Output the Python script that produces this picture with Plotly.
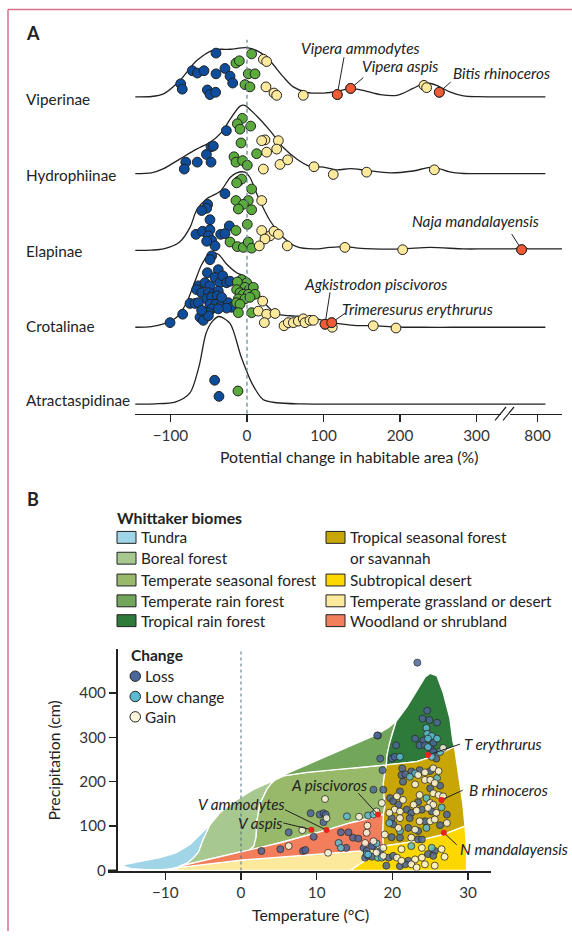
import plotly.graph_objects as go

W, H = 572, 939
FONT = "Lato"
INK = "#222222"
FS = 15.3


def px(x):
    return x / W


def py(y):
    return 1 - y / H


# ======================= PANEL A DATA =======================
# (potential change in habitable area %, vertical jitter in ridge-height units)
subfamilies = ["Atractaspidinae", "Crotalinae", "Elapinae", "Hydrophiinae", "Viperinae"]
tick_values_a = [-100, 0, 100, 200, 300, 800]
tick_labels_a = ["\u2212100", "0", "100", "200", "300", "800"]

vip_density = [(-146, 0), (-125, 0.005), (-109, 0.04), (-88, 0.21), (-66, 0.47), (-44, 0.61), (-22, 0.62),
               (0, 0.64), (17, 0.58), (30, 0.47), (47.5, 0.26), (60.5, 0.13), (78, 0.06), (100, 0.05),
               (118, 0.07), (135, 0.11), (152, 0.085), (174, 0.03), (196, 0.02), (217, 0.11), (233, 0.18),
               (248, 0.15), (265, 0.065), (283, 0.013), (300, 0.002), (320, 0), (340, 0), (752, 0), (824, 0)]
vip_loss = [(-40.5, 0.57), (-71.5, 0.34), (-64.9, 0.31), (-56.2, 0.34), (-40.5, 0.30), (-28.8, 0.37),
            (-22.2, 0.27), (-18.7, 0.18), (-86.7, 0.17), (-84.6, 0.10), (-51.8, 0.09), (-48.4, 0.03), (-41, 0.06)]
vip_low = [(-14.4, 0.44), (-10, 0.47), (6.1, 0.56), (1.7, 0.30), (10.5, 0.30), (-2.6, 0.16), (3.9, 0.13)]
vip_gain = [(21.4, 0.49), (25.7, 0.46), (24.8, 0.13), (35.3, 0.05), (38.8, 0.02), (73.6, 0.02),
            (231.4, 0.15), (234.8, 0.12)]
vip_named = [(118, 0.03), (135.5, 0.11), (251.4, 0.06)]

hyd_density = [(-146, 0), (-125, 0.01), (-109, 0.065), (-88, 0.19), (-66, 0.32), (-48, 0.41), (-33, 0.54),
               (-22, 0.71), (-9, 0.88), (-3, 0.89), (12.7, 0.75), (30, 0.56), (47.5, 0.34), (65, 0.19),
               (82, 0.094), (100, 0.086), (117, 0.05), (135, 0.065), (156, 0.043), (187, 0.01),
               (217, 0.035), (243, 0.086), (265, 0.022), (283, 0.002), (300, 0), (320, 0), (340, 0),
               (752, 0), (824, 0)]
hyd_loss = [(-27, 0.56), (-47, 0.35), (-44, 0.36), (-53, 0.25), (-47, 0.15), (-80, 0.15), (-82, 0.06), (-65, 0.15)]
hyd_low = [(-6.1, 0.72), (-12.6, 0.65), (-9.1, 0.58), (4.8, 0.62), (-7.8, 0.40), (-17, 0.22), (-14.4, 0.15),
           (-5.7, 0.17), (0.4, 0.11), (12.6, 0.26)]
hyd_gain = [(23.5, 0.44), (19.2, 0.43), (41, 0.43), (25.7, 0.28), (38.8, 0.32), (21.4, 0.06), (43.1, 0.12),
            (53.2, 0.18), (87.6, 0.09), (112.8, -0.01), (156.4, 0.02), (244.9, 0.05)]

ela_density = [(-146, 0), (-125, 0.005), (-109, 0.02), (-88, 0.11), (-74.5, 0.3), (-66, 0.52), (-53, 0.67),
               (-35, 0.77), (-22, 0.95), (-13.5, 1.01), (-3, 1.02), (3.9, 0.95), (14.8, 0.69), (30, 0.39),
               (47.5, 0.17), (65, 0.05), (87, 0.02), (108, 0.04), (128, 0.05), (145, 0.03), (165, 0.02),
               (204, 0.02), (239, 0.04), (283, 0.02), (310, 0.02), (340, 0.02), (715, 0.02), (733, 0.025),
               (750, 0.05), (767, 0.025), (800, 0.02), (836, 0.02), (876, 0.02)]
ela_loss = [(-28.8, 0.74), (-51.4, 0.60), (-52.7, 0.55), (-59.3, 0.52), (-48.4, 0.40), (-23.1, 0.32),
            (-66.7, 0.21), (-58, 0.25), (-48.4, 0.27), (-50.5, 0.19), (-46.2, 0.13), (-41.8, 0.06),
            (-34.4, 0.21), (-28.8, 0.22), (-52.7, 0.12)]
ela_low = [(-11.3, 0.90), (-7, 0.93), (-13.5, 0.88), (6.1, 0.80), (-14.4, 0.65), (1.7, 0.65), (-4.8, 0.60),
           (-11.3, 0.54), (6.1, 0.53), (0.4, 0.34), (-14.4, 0.26), (-22.2, 0.11), (-12.6, 0.05), (-4.8, 0.04),
           (1.7, 0.11), (6.1, 0.03)]
ela_gain = [(19.2, 0.65), (19.2, 0.26), (30.1, 0.19), (35.3, 0.25), (41, 0.21), (23.5, 0.15), (16.1, 0.06),
            (52.7, 0.06), (128, 0.04), (203.5, 0.01)]
ela_named = [(750, 0.01)]

cro_density = [(-146, 0), (-125, 0.008), (-109, 0.043), (-92, 0.13), (-79, 0.32), (-68, 0.6), (-59, 0.82),
               (-48, 0.97), (-37.5, 0.95), (-26.5, 0.82), (-13.5, 0.71), (-0.4, 0.65), (12.7, 0.47),
               (21.3, 0.34), (30, 0.24), (39, 0.17), (56, 0.15), (74, 0.14), (91, 0.11), (108, 0.065),
               (125, 0.04), (143, 0.022), (165, 0.022), (196, 0.003), (230, 0), (270, 0), (310, 0), (340, 0),
               (752, 0), (824, 0)]
cro_loss = [(-46.2, 0.93), (-48.4, 0.88), (-37.5, 0.75), (-51.8, 0.71), (-63.6, 0.54), (-65.8, 0.49),
            (-54.9, 0.58), (-48.4, 0.54), (-41.8, 0.65), (-35.3, 0.58), (-31.8, 0.67), (-59.3, 0.45),
            (-50.5, 0.45), (-44, 0.43), (-37.5, 0.47), (-26.6, 0.58), (-22.2, 0.60), (-52.7, 0.37),
            (-46.2, 0.39), (-38.8, 0.41), (-74.5, 0.31), (-67.9, 0.31), (-63.6, 0.32), (-48.4, 0.30),
            (-40.5, 0.30), (-33.1, 0.30), (-24.4, 0.32), (-20, 0.26), (-26.6, 0.25), (-46.2, 0.24),
            (-50.5, 0.19), (-61.4, 0.13), (-57.1, 0.09), (-50.5, 0.15), (-84.1, 0.17), (-100.6, 0.06),
            (-59.3, 0.22), (-37.5, 0.24), (-33.1, 0.39)]
cro_low = [(-7, 0.62), (-0.4, 0.58), (-12.6, 0.59), (-2.6, 0.52), (3.1, 0.49), (8.3, 0.52), (-13.5, 0.49),
           (-9.1, 0.45), (-4.8, 0.43), (1.7, 0.43), (10.5, 0.43), (-11.3, 0.37), (-2.6, 0.37), (3.9, 0.39),
           (-13.5, 0.32), (-9.1, 0.30), (-11.3, 0.19), (6.1, 0.19)]
cro_gain = [(20.5, 0.34), (14.8, 0.21), (25.7, 0.17), (36.6, 0.18), (22.7, 0.06), (48.4, 0.02), (54, 0.06),
            (60.6, 0.06), (67.1, 0.08), (73.6, 0.11), (75.8, 0.06), (82.3, 0.09), (86.8, 0.09), (111.5, 0.0),
            (165.1, 0.02), (194.8, -0.01)]
cro_named = [(102, 0.04), (110.7, 0.06)]

atr_density = [(-146, 0), (-120, 0.003), (-94, 0.026), (-74.5, 0.146), (-62.7, 0.49), (-53.6, 0.92),
               (-45, 1.08), (-36.6, 1.14), (-22.2, 1.05), (-7.8, 0.62), (6.5, 0.27), (20.9, 0.06),
               (39, 0.017), (70, 0.002), (110, 0), (150, 0), (190, 0), (230, 0), (270, 0), (310, 0),
               (340, 0), (752, 0), (824, 0)]
atr_loss = [(-42.3, 0.31), (-36.6, 0.10)]
atr_low = [(-11.8, 0.17)]

ridges_a = [
    ("Atractaspidinae", atr_density, atr_loss, atr_low, [], []),
    ("Crotalinae", cro_density, cro_loss, cro_low, cro_gain, cro_named),
    ("Elapinae", ela_density, ela_loss, ela_low, ela_gain, ela_named),
    ("Hydrophiinae", hyd_density, hyd_loss, hyd_low, hyd_gain, []),
    ("Viperinae", vip_density, vip_loss, vip_low, vip_gain, vip_named),
]

# species labels panel A: (name, ridge index, change, jitter)
species_a = [("Vipera ammodytes", 4, 118, 0.03), ("Vipera aspis", 4, 135.5, 0.11),
             ("Bitis rhinoceros", 4, 251.4, 0.06), ("Naja mandalayensis", 2, 750, 0.01),
             ("Agkistrodon piscivoros", 1, 102, 0.04), ("Trimeresurus erythrurus", 1, 110.7, 0.06)]

# ======================= PANEL B DATA =======================
biome_names = ["Tundra", "Boreal forest", "Temperate seasonal forest", "Temperate rain forest",
               "Tropical rain forest", "Tropical seasonal forest<br>or savannah", "Subtropical desert",
               "Temperate grassland or desert", "Woodland or shrubland"]
biome_colors = ["#9fd5e7", "#a7c98f", "#98b86a", "#72a65b", "#2e7a3b", "#c7a606", "#fdd700",
                "#fde99b", "#f27e5c"]

tundra_poly = [(-15.6, 13), (-14.3, 18), (-12.9, 22), (-10.7, 29), (-8.5, 40), (-6.7, 59), (-5.4, 81),
               (-4.3, 101), (-4.1, 103), (-4.5, 88), (-5.0, 70), (-5.6, 42), (-6.3, 28), (-7.0, 18),
               (-8.1, 9), (-9.2, 4), (-10.5, 2), (-12.5, 2), (-14.5, 4), (-15.3, 8), (-15.6, 13)]
boreal_poly = [(-4.1, 103), (-3.5, 115), (-2.8, 130), (-1.5, 148), (-0.6, 159), (1.6, 182), (3.0, 192),
               (4.5, 204), (4.0, 196), (3.4, 182), (2.5, 150), (2.1, 110), (2.0, 75), (1.7, 55), (1.0, 44),
               (-0.1, 42), (-4.1, 26), (-8.1, 10), (-7.0, 18), (-6.3, 28), (-5.6, 42), (-5.0, 70),
               (-4.5, 88), (-4.1, 103)]
temp_seasonal_poly = [(4.5, 204), (5.6, 213), (8.7, 221), (13.1, 229), (15.7, 232), (19.2, 238), (19.0, 220),
                      (18.8, 196), (18.9, 170), (19.0, 144), (18.8, 126), (15.7, 112), (14.4, 107),
                      (11.3, 91), (9.1, 81), (5.6, 64), (1.0, 44), (1.7, 55), (2.0, 75), (2.1, 110),
                      (2.5, 150), (3.4, 182), (4.0, 196), (4.5, 204)]
temp_rain_poly = [(4.5, 204), (6, 218), (8.7, 238), (11, 255), (13.1, 270), (15.5, 288), (17.9, 306),
                  (19.5, 322), (20.5, 336), (20.0, 310), (19.6, 285), (19.3, 260), (19.2, 238), (15.7, 232),
                  (13.1, 229), (8.7, 221), (5.6, 213), (4.5, 204)]
trop_rain_poly = [(19.2, 238), (19.3, 260), (19.6, 285), (20.0, 310), (20.5, 336), (21.9, 368), (23.2, 405),
                  (24.3, 435), (25.0, 444), (25.9, 438), (26.7, 401), (27.6, 342), (28.0, 290), (28.2, 279),
                  (25.9, 260), (23.2, 245), (20.5, 240), (19.2, 238)]
trop_seasonal_poly = [(18.8, 55), (23.2, 66), (26.7, 81), (29.6, 100), (29.3, 150), (28.9, 200), (28.5, 250),
                      (28.2, 279), (25.9, 260), (23.2, 245), (20.5, 240), (19.2, 238), (19.0, 220),
                      (18.8, 196), (18.9, 170), (19.0, 144), (18.8, 126), (18.7, 100), (18.7, 80), (18.8, 55)]
desert_poly = [(14.4, 0), (16.6, 25), (18.4, 48), (18.8, 55), (23.2, 66), (26.7, 81), (29.6, 100),
               (29.8, 50), (29.8, 0), (14.4, 0)]
grassland_poly = [(-8.8, 0.5), (-8.1, 7), (0.3, 24), (9.1, 36), (15.7, 44), (17.0, 51), (18.8, 55),
                  (18.4, 48), (16.6, 25), (14.4, 0), (-8.8, 0), (-8.8, 0.5)]
woodland_poly = [(-8.3, 9), (-4.1, 26), (-0.1, 42), (5.6, 64), (9.1, 81), (11.3, 91), (14.4, 107),
                 (15.7, 112), (18.8, 126), (18.7, 100), (18.7, 80), (18.8, 55), (17.0, 51), (15.7, 44),
                 (9.1, 36), (0.3, 24), (-8.1, 7), (-8.3, 9)]

# (temperature degC, precipitation cm)
loss_pts = [(23.3, 468), (24.6, 360), (24.0, 342), (24.9, 339), (25.9, 333), (23.0, 297), (24.1, 293),
            (25.4, 287), (23.6, 282), (24.3, 282), (20.5, 282), (18.1, 304), (18.4, 252), (19.9, 252),
            (20.3, 256), (25.8, 252), (25.0, 275), (25.4, 267), (21.3, 230), (22.5, 223), (23.6, 226),
            (25.0, 224), (21.2, 215), (21.7, 217), (21.4, 200), (25.0, 185), (26.3, 191), (21.0, 178),
            (19.7, 163), (18.8, 182), (20.1, 156), (20.8, 148), (23.4, 154), (21.9, 137), (22.5, 130),
            (23.9, 137), (25.2, 133), (27.2, 126), (19.9, 118), (22.3, 118), (24.3, 111), (26.3, 102),
            (20.1, 104), (22.1, 96), (23.4, 89), (19.9, 75), (21.0, 74), (23.4, 70), (23.9, 70),
            (17.5, 55), (18.4, 44), (16.2, 51), (16.4, 29), (16.8, 33), (19.5, 29), (20.1, 33), (25.6, 44),
            (22.1, 22), (24.7, 37), (25.4, 33), (21.0, 10), (21.7, 14), (19.2, 11), (18.0, 304), (18.7, 226),
            (17.5, 182), (9.2, 129), (10.4, 126), (10.9, 129), (11.2, 126), (10.9, 109), (6.3, 86),
            (9.6, 76), (13.2, 86), (14.2, 86), (14.8, 74), (15.5, 72), (13.9, 51), (17.3, 55), (2.7, 44),
            (5.2, 48), (8.2, 44), (8.5, 46), (16.6, 44), (17.3, 31)]
low_pts = [(24.5, 321), (24.6, 308), (25.2, 303), (24.7, 297), (25.9, 297), (24.7, 278), (21.0, 256),
           (25.2, 256), (26.3, 267), (23.0, 219), (22.3, 211), (25.9, 208), (24.5, 163), (26.5, 142),
           (24.5, 96), (19.6, 107), (21.0, 89), (16.6, 37), (18.1, 29), (22.5, 55), (25.2, 51), (14.0, 122),
           (16.8, 124), (17.5, 126), (12.9, 62), (13.2, 51), (17.9, 61), (16.8, 36), (18.6, 29)]
gain_pts = [(26.7, 276), (24.3, 221), (25.4, 230), (26.1, 224), (23.4, 215), (23.0, 194), (24.3, 204),
            (25.0, 204), (25.6, 197), (25.4, 174), (26.1, 170), (26.7, 167), (23.6, 170), (20.6, 167),
            (21.4, 159), (18.6, 152), (22.8, 148), (25.0, 152), (25.4, 148), (20.3, 137), (21.0, 133),
            (23.2, 135), (24.7, 141), (25.8, 130), (19.6, 130), (21.0, 118), (23.6, 111), (25.0, 111),
            (25.6, 115), (27.2, 107), (20.8, 96), (23.0, 92), (22.5, 74), (19.0, 81), (18.8, 51), (18.8, 33),
            (21.2, 48), (23.9, 51), (26.5, 48), (20.6, 29), (21.2, 22), (23.0, 25), (23.9, 29), (26.9, 31),
            (22.5, 14), (23.2, 7), (24.3, 14), (25.6, 11), (11.1, 161), (11.3, 118), (15.6, 121),
            (17.9, 133), (8.1, 91), (16.6, 85), (16.7, 101), (17.5, 66), (6.3, 55), (11.5, 40), (16.4, 62),
            (17.9, 40)]
named_b = [("V aspis", 9.3, 92), ("V ammodytes", 11.3, 91), ("A piscivoros", 18.1, 126),
           ("T erythrurus", 24.7, 260), ("B rhinoceros", 26.5, 159), ("N mandalayensis", 26.8, 85)]
change_names = ["Loss", "Low change", "Gain"]
change_colors = ["#4b6699", "#5bbbd3", "#fbf5dc"]

# ======================= AXES GEOMETRY =======================
A_XR = [-146.4, 411.8]
A_XD = [135, 562]
A_YR = [-0.126, 4.745]
A_YD = [417.3, 40]
B_XR = [-17.57, 33.03]
B_XD = [108, 491]
B_YR = [0, 497.8]
B_YD = [878, 655]


def a_x(xp):
    return A_XR[0] + (xp - A_XD[0]) / (A_XD[1] - A_XD[0]) * (A_XR[1] - A_XR[0])


def a_y(yp):
    return A_YR[0] + (A_YD[0] - yp) / (A_YD[0] - A_YD[1]) * (A_YR[1] - A_YR[0])


def b_x(xp):
    return B_XR[0] + (xp - B_XD[0]) / (B_XD[1] - B_XD[0]) * (B_XR[1] - B_XR[0])


def b_y(yp):
    return B_YR[0] + (B_YD[0] - yp) / (B_YD[0] - B_YD[1]) * (B_YR[1] - B_YR[0])


def brk(v):
    """broken x axis: 0..340 linear, then values 700+ compressed next to the 800 tick"""
    return v if v <= 340 else 380 - (800 - v) * 0.42


fig = go.Figure()

COL_A = {"loss": "#0e4d9c", "low": "#5aab3b", "gain": "#fce99c", "named": "#ee5b36"}

# ---------------- Panel A traces ----------------
for i, (name, dens, loss, low, gain, named) in enumerate(ridges_a):
    fig.add_trace(go.Scatter(x=[brk(v) for v, _ in dens], y=[i + h for _, h in dens], mode="lines",
                             line=dict(color=INK, width=1.3, shape="spline", smoothing=0.8, simplify=False),
                             xaxis="x", yaxis="y", hoverinfo="skip"))
for i, (name, dens, loss, low, gain, named) in enumerate(ridges_a):
    for pts, key in [(loss, "loss"), (low, "low"), (gain, "gain"), (named, "named")]:
        if not pts:
            continue
        fig.add_trace(go.Scatter(x=[brk(v) for v, _ in pts], y=[i + j for _, j in pts], mode="markers",
                                 marker=dict(size=9.8, color=COL_A[key], line=dict(color=INK, width=1)),
                                 xaxis="x", yaxis="y", hoverinfo="skip"))

# species label leader lines (panel A)
label_pos_a = {
    "Vipera ammodytes": ((360.5, 48.3), (344, 57.7)),
    "Vipera aspis": ((400.3, 66.7), (363.3, 78.3)),
    "Bitis rhinoceros": ((501, 74), (450.7, 82.7)),
    "Naja mandalayensis": ((475, 223.3), (511.7, 236)),
    "Agkistrodon piscivoros": ((376, 286.7), (330, 295)),
    "Trimeresurus erythrurus": ((417.5, 311.7), (345, 316)),
}
annotations = []
shapes = []
for name, ridge, v, j in species_a:
    (tx, ty), (lx, ly) = label_pos_a[name]
    fig.add_trace(go.Scatter(x=[a_x(lx), brk(v)], y=[a_y(ly), ridge + j], mode="lines",
                             line=dict(color=INK, width=1), xaxis="x", yaxis="y", hoverinfo="skip"))
    annotations.append(dict(text="<i>%s</i>" % name, x=px(tx), y=py(ty), xref="paper", yref="paper",
                            showarrow=False, xanchor="center", yanchor="middle",
                            font=dict(family=FONT, size=FS, color=INK)))
# redraw named points above leader lines
for i, (name, dens, loss, low, gain, named) in enumerate(ridges_a):
    if named:
        fig.add_trace(go.Scatter(x=[brk(v) for v, _ in named], y=[i + j for _, j in named], mode="markers",
                                 marker=dict(size=9.8, color=COL_A["named"], line=dict(color=INK, width=1)),
                                 xaxis="x", yaxis="y", hoverinfo="skip"))

ridge_label_y = [403.5, 328.5, 253.5, 176.5, 100]
for (name, *_), ly in zip(ridges_a, ridge_label_y):
    annotations.append(dict(text=name, x=px(23.5), y=py(ly), xref="paper", yref="paper", showarrow=False,
                            xanchor="left", yanchor="middle", font=dict(family=FONT, size=FS, color=INK)))

# dashed zero line panel A
shapes.append(dict(type="line", xref="x", yref="paper", x0=0, x1=0, y0=py(417.3), y1=py(40),
                   line=dict(color="#6b8e9c", width=1.3, dash="4px,3px")))
# axis break marks
shapes.append(dict(type="rect", xref="paper", yref="paper", x0=px(501), x1=px(510),
                   y0=py(419.5), y1=py(415), fillcolor="white", line=dict(width=0)))
for off in (0, 8):
    shapes.append(dict(type="line", xref="paper", yref="paper", x0=px(495 + off), y0=py(424),
                       x1=px(506 + off), y1=py(410.5), line=dict(color=INK, width=1.2)))

annotations.append(dict(text="Potential change in habitable area (%)", x=px(348.5), y=py(460),
                        xref="paper", yref="paper", showarrow=False, xanchor="center", yanchor="middle",
                        font=dict(family=FONT, size=FS + 0.5, color=INK)))
annotations.append(dict(text="<b>A</b>", x=px(24), y=py(33), xref="paper", yref="paper", showarrow=False,
                        xanchor="left", yanchor="middle", font=dict(family=FONT, size=18, color=INK)))
annotations.append(dict(text="<b>B</b>", x=px(25), y=py(503), xref="paper", yref="paper", showarrow=False,
                        xanchor="left", yanchor="middle", font=dict(family=FONT, size=18, color=INK)))

# ---------------- Panel B traces ----------------
polys = [tundra_poly, boreal_poly, temp_seasonal_poly, temp_rain_poly, trop_rain_poly, trop_seasonal_poly,
         desert_poly, grassland_poly, woodland_poly]
for poly, col in zip(polys, biome_colors):
    fig.add_trace(go.Scatter(x=[p[0] for p in poly], y=[p[1] for p in poly], mode="lines", fill="toself",
                             fillcolor=col, line=dict(color="white", width=1.3),
                             xaxis="x2", yaxis="y2", hoverinfo="skip"))

shapes.append(dict(type="line", xref="x2", yref="y2", x0=0, x1=0, y0=0, y1=B_YR[1],
                   line=dict(color="#4f6e80", width=1, dash="3px,3px")))

for pts, col in zip([loss_pts, low_pts, gain_pts], change_colors):
    fig.add_trace(go.Scatter(x=[p[0] for p in pts], y=[p[1] for p in pts], mode="markers",
                             marker=dict(size=7, color=col, opacity=0.85, line=dict(color="#2a2a2a", width=0.9)),
                             xaxis="x2", yaxis="y2", hoverinfo="skip"))

label_pos_b = {
    "T erythrurus": ((461.7, 750.7, "left"), (460, 750.5)),
    "B rhinoceros": ((466.7, 796.7, "left"), (462.7, 797)),
    "N mandalayensis": ((458, 856, "left"), (456.7, 852)),
    "A piscivoros": ((329, 791.7, "center"), (358.3, 800)),
    "V ammodytes": ((241.7, 810.7, "center"), (285, 816.7)),
    "V aspis": ((259.5, 830, "center"), (283.3, 830)),
}
for name, t, p in named_b:
    (tx, ty, anc), (lx, ly) = label_pos_b[name]
    fig.add_trace(go.Scatter(x=[b_x(lx), t], y=[b_y(ly), p], mode="lines", line=dict(color=INK, width=1),
                             xaxis="x2", yaxis="y2", hoverinfo="skip"))
    annotations.append(dict(text="<i>%s</i>" % name, x=px(tx), y=py(ty), xref="paper", yref="paper",
                            showarrow=False, xanchor=anc, yanchor="middle",
                            font=dict(family=FONT, size=FS, color=INK)))
fig.add_trace(go.Scatter(x=[n[1] for n in named_b], y=[n[2] for n in named_b], mode="markers",
                         marker=dict(size=6, color="#e8231d"), xaxis="x2", yaxis="y2", hoverinfo="skip"))

# x-axis extension left of y-axis
shapes.append(dict(type="line", xref="paper", yref="paper", x0=px(108), x1=px(118), y0=py(878), y1=py(878),
                   line=dict(color=INK, width=2)))

annotations.append(dict(text="Temperature (\u00b0C)", x=px(310), y=py(922), xref="paper", yref="paper",
                        showarrow=False, xanchor="center", yanchor="middle",
                        font=dict(family=FONT, size=FS + 0.5, color=INK)))
annotations.append(dict(text="Precipitation (cm)", x=px(53), y=py(767), xref="paper", yref="paper",
                        showarrow=False, textangle=-90, xanchor="center", yanchor="middle",
                        font=dict(family=FONT, size=FS + 0.5, color=INK)))

# Change legend
annotations.append(dict(text="<b>Change</b>", x=px(129), y=py(661), xref="paper", yref="paper",
                        showarrow=False, xanchor="left", yanchor="middle",
                        font=dict(family=FONT, size=15.5, color=INK)))
for k, (nm, col) in enumerate(zip(change_names, change_colors)):
    cy = 682 + k * 20.5
    shapes.append(dict(type="circle", xref="paper", yref="paper", x0=px(130), x1=px(140.5),
                       y0=py(cy + 5.25), y1=py(cy - 5.25), fillcolor=col, line=dict(color=INK, width=1)))
    annotations.append(dict(text=nm, x=px(143), y=py(cy), xref="paper", yref="paper", showarrow=False,
                            xanchor="left", yanchor="middle", font=dict(family=FONT, size=FS, color=INK)))

# Whittaker legend
annotations.append(dict(text="<b>Whittaker biomes</b>", x=px(115), y=py(522), xref="paper", yref="paper",
                        showarrow=False, xanchor="left", yanchor="middle",
                        font=dict(family=FONT, size=15.8, color=INK)))
legend_slots = [(117, 542), (117, 563), (117, 585), (117, 606), (117, 626),
                (326, 542), (326, 585), (326, 606), (326, 626)]
for (sx, sy), nm, col in zip(legend_slots, biome_names, biome_colors):
    shapes.append(dict(type="rect", xref="paper", yref="paper", x0=px(sx), x1=px(sx + 19),
                       y0=py(sy + 6), y1=py(sy - 6), fillcolor=col, line=dict(color=INK, width=1)))
    lines = nm.split("<br>")
    for li, txt in enumerate(lines):
        annotations.append(dict(text=txt, x=px(sx + 22), y=py(sy + 21 * li), xref="paper", yref="paper",
                                showarrow=False, xanchor="left", yanchor="middle",
                                font=dict(family=FONT, size=FS, color=INK)))

# page frame
shapes.append(dict(type="line", xref="paper", yref="paper", x0=px(8), x1=1, y0=py(9.5), y1=py(9.5),
                   line=dict(color="#d6718c", width=1.5)))
shapes.append(dict(type="line", xref="paper", yref="paper", x0=px(8), x1=px(8), y0=py(9.5), y1=0,
                   line=dict(color="#d6718c", width=1.5)))

tickfont = dict(family=FONT, size=FS, color="#333333")
fig.update_layout(
    width=W, height=H, margin=dict(l=0, r=0, t=0, b=0), paper_bgcolor="white", plot_bgcolor="rgba(0,0,0,0)",
    showlegend=False, font=dict(family=FONT, color=INK),
    xaxis=dict(domain=[px(A_XD[0]), px(A_XD[1])], range=A_XR, anchor="y", showgrid=False, zeroline=False,
               showline=True, linecolor=INK, linewidth=1.4, ticks="outside", ticklen=7, tickwidth=1.2,
               tickcolor=INK, tickvals=[brk(v) for v in tick_values_a], ticktext=tick_labels_a,
               tickfont=tickfont, fixedrange=True),
    yaxis=dict(domain=[py(A_YD[0]), py(A_YD[1])], range=A_YR, anchor="x", visible=False, fixedrange=True),
    xaxis2=dict(domain=[px(B_XD[0]), px(B_XD[1])], range=B_XR, anchor="y2", showgrid=False, zeroline=False,
                showline=True, linecolor=INK, linewidth=2, ticks="outside", ticklen=7, tickwidth=1.4,
                tickcolor=INK, tickvals=[-10, 0, 10, 20, 30], ticktext=["\u221210", "0", "10", "20", "30"],
                tickfont=tickfont, fixedrange=True),
    yaxis2=dict(domain=[py(B_YD[0]), py(B_YD[1])], range=B_YR, anchor="free", position=px(117),
                showgrid=False, zeroline=False, showline=True, linecolor=INK, linewidth=2, ticks="outside",
                ticklen=7, tickwidth=1.4, tickcolor=INK, tickvals=[0, 100, 200, 300, 400],
                tickfont=tickfont, fixedrange=True),
    annotations=annotations, shapes=shapes,
)

fig.write_html("out.html", config={"displayModeBar": False, "staticPlot": True},
               post_script="document.body.style.margin='0px';document.body.style.overflow='hidden';")
